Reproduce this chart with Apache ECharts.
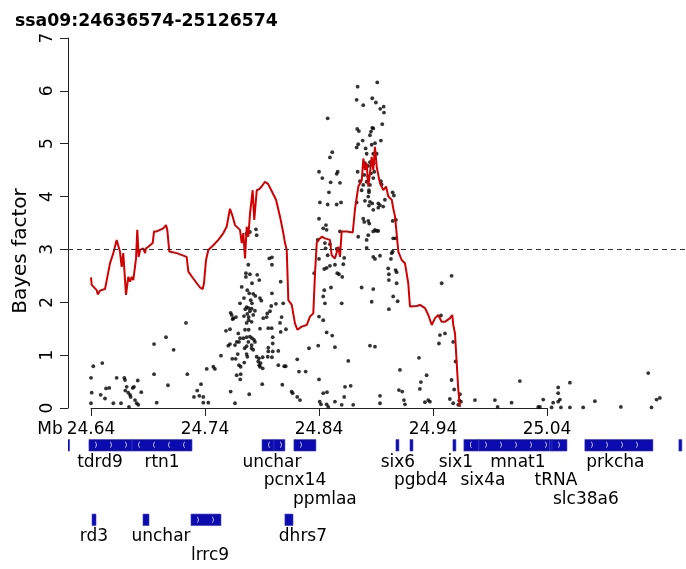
<!DOCTYPE html>
<html>
<head>
<meta charset="utf-8">
<script src="https://cdn.jsdelivr.net/npm/echarts@6/dist/echarts.min.js"></script>
<style>
html,body{margin:0;padding:0;background:#fff}
#main{width:686px;height:569px}
</style>
</head>
<body>
<div id="main"></div>
<script>
const FONT = 'DejaVu Sans';
const regionTitle = 'ssa09:24636574-25126574';
// plot range (Mb) and labelled tick range
const xRange = [24.61982, 25.16193];
const tickRange = [24.64, 25.04];
const threshold = 3;

// smoothed Bayes factor (red line): [Mb, BF]
const bfLine = [
  [24.6400,2.47],[24.6406,2.33],[24.6450,2.23],[24.6459,2.15],[24.6479,2.22],[24.6523,2.25],[24.6538,2.42],
  [24.6567,2.74],[24.6596,2.93],[24.6625,3.18],[24.6654,2.96],[24.6669,2.67],[24.6683,2.93],[24.6698,2.96],
  [24.6707,2.14],[24.6727,2.48],[24.6742,2.39],[24.6757,2.48],[24.6771,2.42],[24.6795,2.83],[24.6806,3.37],
  [24.6818,2.86],[24.6830,2.99],[24.6859,3.02],[24.6874,2.93],[24.6882,3.02],[24.6903,3.05],[24.6918,3.08],
  [24.6941,3.12],[24.6953,3.34],[24.6976,3.34],[24.7005,3.37],[24.7034,3.40],[24.7058,3.46],[24.7069,3.37],
  [24.7087,2.96],[24.7152,2.93],[24.7239,2.86],[24.7254,2.58],[24.7297,2.45],[24.7356,2.28],[24.7380,2.25],
  [24.7391,2.36],[24.7409,2.80],[24.7429,2.99],[24.7473,3.08],[24.7517,3.18],[24.7561,3.31],[24.7590,3.43],
  [24.7619,3.77],[24.7643,3.62],[24.7663,3.46],[24.7707,3.37],[24.7722,3.12],[24.7736,3.31],[24.7751,2.83],
  [24.7766,3.43],[24.7780,3.24],[24.7795,3.68],[24.7818,4.12],[24.7832,3.56],[24.7854,4.12],[24.7876,4.14],
  [24.7900,4.20],[24.7926,4.28],[24.7953,4.24],[24.7988,4.09],[24.8023,3.94],[24.8058,3.62],[24.8087,3.31],
  [24.8102,3.12],[24.8117,2.99],[24.8131,2.04],[24.8161,1.95],[24.8189,1.60],[24.8210,1.48],[24.8248,1.54],
  [24.8292,1.57],[24.8321,1.73],[24.8350,1.79],[24.8365,2.55],[24.8380,3.12],[24.8394,3.18],[24.8424,3.24],
  [24.8453,3.21],[24.8496,3.18],[24.8511,2.89],[24.8540,2.83],[24.8569,3.05],[24.8584,2.86],[24.8599,3.34],
  [24.8643,3.34],[24.8696,3.32],[24.8716,3.77],[24.8745,4.19],[24.8760,4.22],[24.8775,4.31],[24.8789,4.72],
  [24.8804,4.50],[24.8818,4.63],[24.8832,4.19],[24.8847,4.44],[24.8862,4.75],[24.8876,4.50],[24.8891,4.94],
  [24.8906,4.57],[24.8920,4.41],[24.8935,4.25],[24.8950,4.19],[24.8964,4.12],[24.8988,4.19],[24.9008,4.00],
  [24.9038,3.94],[24.9052,3.77],[24.9067,3.62],[24.9082,3.62],[24.9096,2.96],[24.9125,2.80],[24.9154,2.74],
  [24.9183,2.36],[24.9198,1.92],[24.9257,1.93],[24.9286,1.95],[24.9330,1.89],[24.9359,1.76],[24.9389,1.57],
  [24.9418,1.70],[24.9446,1.76],[24.9476,1.63],[24.9505,1.63],[24.9549,1.70],[24.9569,1.76],[24.9578,1.57],
  [24.9593,1.41],[24.9608,0.85],[24.9622,0.34],[24.9637,0.02]
];

// single-marker Bayes factors (black dots): [Mb, BF]
const snps = [
  [24.6420,0.79],[24.6499,0.85],[24.6400,0.57],[24.6406,0.29],[24.6400,0.09],[24.6485,0.25],[24.6523,0.18],
  [24.6532,0.37],[24.6560,0.38],[24.6596,0.09],[24.6625,0.57],[24.6663,0.09],[24.6692,0.57],[24.6698,0.53],
  [24.6713,0.40],[24.6701,0.33],[24.6727,0.29],[24.6742,0.25],[24.6766,0.38],[24.6748,0.21],[24.6733,0.02],
  [24.6786,0.15],[24.6810,0.52],[24.6801,0.09],[24.6841,0.30],[24.6953,1.21],[24.6953,0.64],[24.6976,0.10],
  [24.7058,1.34],[24.7075,0.43],[24.7125,1.10],[24.7233,1.61],[24.7245,0.64],[24.6777,0.40],[24.6815,0.06],
  [24.7765,3.30],[24.7794,3.33],[24.7847,3.38],[24.7853,3.27],
  [24.7964,2.83],[24.7987,2.85],[24.7987,2.71],[24.7780,2.71],[24.7759,2.55],[24.7759,2.48],[24.7794,2.53],
  [24.7858,2.52],[24.7876,2.42],[24.7812,2.36],[24.7722,2.29],[24.8064,2.39],[24.7771,2.23],[24.7788,2.17],
  [24.7823,2.16],[24.7841,2.12],[24.7987,2.17],[24.7882,2.08],[24.7894,2.03],[24.7742,2.08],[24.7707,1.98],
  [24.7801,2.04],[24.7812,1.98],[24.7981,1.93],[24.8022,1.97],[24.8086,1.98],[24.7765,1.91],[24.7783,1.89],
  [24.7809,1.88],[24.7753,1.87],[24.7794,1.83],[24.7838,1.84],[24.7970,1.83],[24.7946,1.79],[24.7625,1.80],
  [24.7634,1.76],[24.7742,1.74],[24.7771,1.78],[24.7783,1.72],[24.7823,1.76],[24.7941,1.72],[24.7672,1.72],
  [24.7648,1.70],[24.8072,1.72],[24.7911,1.70],[24.7783,1.66],[24.7765,1.61],[24.7809,1.63],[24.8058,1.61],
  [24.7643,1.68],[24.7955,1.51],[24.7985,1.51],[24.7882,1.50],[24.8110,1.49],[24.8064,1.44],[24.7619,1.49],
  [24.7584,1.46],[24.7751,1.48],[24.7783,1.48],[24.7692,1.41],[24.7994,1.34],[24.7707,1.32],[24.7736,1.32],
  [24.7765,1.34],[24.7794,1.35],[24.7830,1.29],[24.7812,1.32],[24.7780,1.25],[24.7838,1.25],[24.7678,1.25],
  [24.7698,1.25],[24.7619,1.21],[24.7604,1.18],[24.7663,1.19],[24.7765,1.17],[24.7809,1.19],[24.7748,1.13],
  [24.7809,1.13],[24.7823,1.10],[24.7955,1.14],[24.7994,1.22],[24.7955,1.07],[24.7994,1.07],[24.8043,1.08],
  [24.7687,1.02],[24.7765,1.02],[24.7771,0.97],[24.7540,0.99],[24.7639,0.93],[24.7669,0.93],[24.7853,0.97],
  [24.7873,0.94],[24.7906,0.96],[24.7950,0.97],[24.7987,0.96],[24.8209,0.92],[24.7744,0.86],[24.7698,0.81],
  [24.7713,0.78],[24.7867,0.88],[24.7876,0.81],[24.7888,0.85],[24.7882,0.78],[24.7906,0.75],[24.8043,0.81],
  [24.8095,0.79],[24.8108,0.79],[24.7415,0.74],[24.7473,0.78],[24.7487,0.74],[24.7678,0.62],[24.7713,0.64],
  [24.8224,0.69],[24.8283,0.69],[24.7709,0.54],[24.7902,0.45],[24.8078,0.44],[24.7365,0.45],[24.7332,0.33],
  [24.7303,0.21],[24.7350,0.23],[24.7385,0.21],[24.7385,0.10],[24.7429,0.10],[24.7625,0.31],[24.7788,0.26],
  [24.7663,0.09],[24.8160,0.31],[24.8169,0.28],[24.8209,0.21],[24.8233,0.15],[24.8312,1.13],
  [24.8911,6.16],[24.8739,6.08],[24.8730,5.83],[24.8788,5.73],[24.8867,5.86],[24.8899,5.78],[24.8937,5.66],
  [24.8967,5.70],[24.8970,5.59],[24.8476,5.48],[24.8955,5.37],[24.8735,5.28],[24.8750,5.24],[24.8867,5.30],
  [24.8876,5.29],[24.8856,5.23],[24.8847,5.16],[24.8783,5.06],[24.8943,5.06],[24.8730,4.93],[24.8744,4.99],
  [24.8862,4.98],[24.8891,5.01],[24.8809,4.91],[24.8876,4.81],[24.8906,4.81],[24.8818,4.81],[24.8516,4.84],
  [24.8496,4.74],[24.8803,4.63],[24.8847,4.65],[24.8879,4.63],[24.8832,4.58],[24.8739,4.47],[24.8885,4.47],
  [24.8400,4.47],[24.8564,4.47],[24.8555,4.43],[24.8429,4.35],[24.8856,4.44],[24.8797,4.41],[24.8832,4.38],
  [24.8876,4.35],[24.8759,4.29],[24.8818,4.28],[24.8943,4.29],[24.8949,4.23],[24.8502,4.27],[24.8584,4.26],
  [24.8788,4.22],[24.8847,4.22],[24.8774,4.12],[24.8838,4.12],[24.8487,4.08],[24.8838,4.08],[24.9046,4.08],
  [24.8832,4.00],[24.9057,4.02],[24.8730,3.89],[24.8408,3.89],[24.8476,3.85],[24.8593,3.89],[24.8555,3.85],
  [24.8803,3.92],[24.8847,3.90],[24.8867,3.87],[24.8920,3.87],[24.8978,3.94],[24.8838,3.83],[24.8935,3.84],
  [24.8876,3.75],[24.8920,3.79],[24.8963,3.81],[24.8400,3.58],[24.8788,3.58],[24.8832,3.54],[24.8841,3.49],
  [24.9075,3.56],[24.9046,3.54],[24.8797,3.52],[24.8461,3.46],[24.8437,3.40],[24.8467,3.37],[24.8584,3.34],
  [24.8891,3.37],[24.8906,3.35],[24.8920,3.35],[24.8876,3.34],[24.8744,3.24],[24.8832,3.27],[24.8818,3.18],
  [24.9051,3.21],[24.9072,3.21],[24.8388,3.18],[24.8452,3.12],[24.8496,3.10],[24.8818,3.03],[24.9046,2.96],
  [24.8458,3.02],[24.8400,2.82],[24.8476,2.89],[24.8555,3.01],[24.8621,2.84],[24.8876,2.86],[24.8891,2.82],
  [24.8935,2.88],[24.9031,2.82],[24.9038,2.93],[24.8358,2.55],[24.8446,2.63],[24.8467,2.65],[24.8496,2.69],
  [24.8540,2.71],[24.8613,2.72],[24.8560,2.55],[24.8575,2.53],[24.8604,2.48],[24.9007,2.64],[24.9072,2.61],
  [24.9081,2.57],[24.9013,2.53],[24.9013,2.42],[24.9081,2.36],[24.9563,2.50],[24.9476,2.36],[24.8446,2.23],
  [24.8505,2.28],[24.8774,2.28],[24.8876,2.25],[24.8437,2.11],[24.9051,2.11],[24.8452,1.98],[24.8599,1.98],
  [24.8862,2.01],[24.9090,2.02],[24.9013,1.87],[24.8400,1.73],[24.8437,1.66],[24.9470,1.75],[24.8467,1.43],
  [24.8516,1.37],[24.9461,1.38],[24.9505,1.41],[24.9452,1.22],[24.8393,1.18],[24.8540,1.15],[24.8847,1.18],
  [24.8891,1.16],[24.9577,1.25],[24.9277,0.95],[24.8657,0.89],[24.9598,0.88],[24.9110,0.72],[24.9344,0.62],
  [24.8400,0.54],[24.9294,0.49],[24.9563,0.53],[24.8678,0.42],[24.8628,0.40],[24.9101,0.34],[24.9130,0.31],
  [24.9285,0.36],[24.8437,0.28],[24.8470,0.30],[24.8621,0.21],[24.8935,0.23],[24.9636,0.26],[24.9145,0.15],
  [24.9358,0.15],[24.9373,0.12],[24.9548,0.17],[24.9329,0.11],[24.8406,0.12],[24.8417,0.07],[24.8467,0.07],
  [24.8481,0.02],[24.8540,0.12],[24.8599,0.06],[24.8700,0.06],[24.8935,0.09],[24.9154,0.07],[24.9577,0.09],
  [24.9645,0.12],[24.9621,0.06],
  [24.9586,0.35],[25.0162,0.51],[25.0498,0.39],[25.0498,0.28],[25.0601,0.48],[25.1288,0.66],[25.1390,0.19],
  [25.1361,0.16],[24.9630,0.14],[24.9768,0.15],[24.9943,0.15],[25.0089,0.10],[25.0367,0.16],[25.0454,0.10],
  [25.0513,0.16],[25.0498,0.12],[25.0820,0.13],[25.0338,0.02],[25.0323,0.02],[25.0522,0.01],[25.0601,0.01],
  [25.1048,0.02],[24.9967,0.02],[25.0440,0.01],[25.1317,0.01],[25.0717,0.01]
];

// gene models (Mb), track row, strand (1 = forward, -1 = reverse, 0 = none)
const geneStart  = [24.6190, 24.6382, 24.6760, 24.7900, 24.8005, 24.8180, 24.9075, 24.9198, 24.9575, 24.9671, 24.9803, 25.0425, 25.0443, 25.0732, 25.1557,
                    24.6409, 24.6856, 24.7277, 24.8101];
const geneEnd    = [24.6208, 24.6760, 24.7286, 24.8005, 24.8101, 24.8373, 24.9101, 24.9224, 24.9601, 24.9803, 25.0425, 25.0443, 25.0575, 25.1329, 25.1583,
                    24.6444, 24.6909, 24.7540, 24.8172];
const geneRow    = [0,0,0,0,0,0,0,0,0,0,0,0,0,0,0, 1,1,1,1];
const geneStrand = [0,1,-1,-1,1,1,0,0,0,-1,1,0,1,1,0, 0,0,1,-1];

// gene names: position (Mb), track row, text line below the row
const labelText = ['tdrd9','rtn1','unchar','pcnx14','ppmlaa','six6','pgbd4','six1','six4a','mnat1','tRNA','slc38a6','prkcha',
                   'rd3','unchar','lrrc9','dhrs7'];
const labelPos  = [24.6479, 24.7023, 24.7987, 24.8189, 24.8452, 24.9092, 24.9294, 24.9601, 24.9838, 25.0145, 25.0478, 25.0741, 25.1000,
                   24.6426, 24.7014, 24.7444, 24.8259];
const labelRow  = [0,0,0,0,0,0,0,0,0,0,0,0,0, 1,1,1,1];
const labelLine = [0,0,0,1,2,0,1,0,1,0,1,2,0, 0,0,1,0];

const chart = echarts.init(document.getElementById('main'));
const axisColor = '#222';

chart.setOption({
  animation: false,
  backgroundColor: '#fff',
  title: {
    text: regionTitle, left: 10, top: 8,
    textStyle: {fontFamily: FONT, fontSize: 17.3, fontWeight: 'bold', color: '#000'}
  },
  grid: [
    {left: 68, right: 0, top: 38, bottom: 161},
    {left: 91, width: 456, top: 407, height: 1},
    {left: 68, right: 0, top: 408, height: 161}
  ],
  xAxis: [
    {gridIndex: 0, type: 'value', min: xRange[0], max: xRange[1], show: false},
    {
      gridIndex: 1, type: 'value', min: tickRange[0], max: tickRange[1], interval: 0.1,
      position: 'bottom',
      axisLine: {lineStyle: {color: axisColor, width: 1}},
      axisTick: {length: 8, lineStyle: {color: axisColor}},
      splitLine: {show: false},
      axisLabel: {
        formatter: v => v.toFixed(2), fontFamily: FONT, fontSize: 17, color: '#000', margin: 13,
        showMinLabel: true, showMaxLabel: true
      },
      name: 'Mb', nameLocation: 'start', nameGap: 28,
      nameTextStyle: {fontFamily: FONT, fontSize: 17, color: '#000', verticalAlign: 'top', padding: [13, 0, 0, 0]}
    },
    {gridIndex: 2, type: 'value', min: xRange[0], max: xRange[1], show: false}
  ],
  yAxis: [
    {
      gridIndex: 0, type: 'value', min: 0, max: 7, interval: 1,
      axisLine: {show: true, lineStyle: {color: axisColor, width: 1}},
      axisTick: {show: true, length: 8, lineStyle: {color: axisColor}},
      splitLine: {show: false},
      axisLabel: {rotate: 90, fontFamily: FONT, fontSize: 17, color: '#000', margin: 12},
      name: 'Bayes factor', nameLocation: 'middle', nameGap: 34,
      nameTextStyle: {fontFamily: FONT, fontSize: 20, color: '#000', padding: [0, 56, 0, 0]}
    },
    {gridIndex: 1, type: 'value', min: 0, max: 1, show: false},
    {gridIndex: 2, type: 'value', inverse: true, min: -0.5, max: 1.66, show: false}
  ],
  series: [
    {
      type: 'scatter', xAxisIndex: 0, yAxisIndex: 0,
      data: snps, symbol: 'circle', symbolSize: 3.8,
      itemStyle: {color: '#000'},
      markLine: {
        silent: true, symbol: 'none', label: {show: false},
        lineStyle: {color: '#333', type: [5, 4], width: 1},
        data: [{yAxis: threshold}]
      }
    },
    {
      type: 'line', xAxisIndex: 0, yAxisIndex: 0,
      data: bfLine, showSymbol: false, symbol: 'none',
      lineStyle: {color: '#d20000', width: 2}
    },
    {
      type: 'custom', xAxisIndex: 2, yAxisIndex: 2, clip: true,
      data: geneStart.map((s, i) => [s, geneEnd[i], geneRow[i], geneStrand[i]]),
      encode: {x: [0, 1], y: 2},
      renderItem(params, api) {
        const a = api.coord([api.value(0), api.value(2)]);
        const b = api.coord([api.value(1), api.value(2)]);
        const h = 11.5;
        const w = Math.max(b[0] - a[0], 2.5);
        const kids = [{
          type: 'rect',
          shape: {x: a[0], y: a[1] - h / 2, width: w, height: h},
          style: {fill: '#0b0bb0', stroke: '#3c3cc8', lineWidth: 0.6}
        }];
        const strand = api.value(3);
        if (strand !== 0 && w > 10) {
          for (let x = a[0] + 7; x < a[0] + w - 3; x += 15) {
            kids.push({
              type: 'text', x: x, y: a[1],
              style: {text: strand > 0 ? ')' : '(', fill: '#fff', fontSize: 7,
                      fontFamily: FONT, align: 'center', verticalAlign: 'middle'}
            });
          }
        }
        return {type: 'group', children: kids};
      }
    },
    {
      type: 'custom', xAxisIndex: 2, yAxisIndex: 2,
      data: labelPos.map((p, i) => [p, labelRow[i], labelLine[i]]),
      encode: {x: 0, y: 1},
      renderItem(params, api) {
        const p = api.coord([api.value(0), api.value(1)]);
        return {
          type: 'text', x: p[0], y: p[1] + 17 + 18.5 * api.value(2),
          style: {text: labelText[params.dataIndex], fill: '#000', fontSize: 17,
                  fontFamily: FONT, align: 'center', verticalAlign: 'middle'}
        };
      }
    }
  ]
});
</script>
</body>
</html>
